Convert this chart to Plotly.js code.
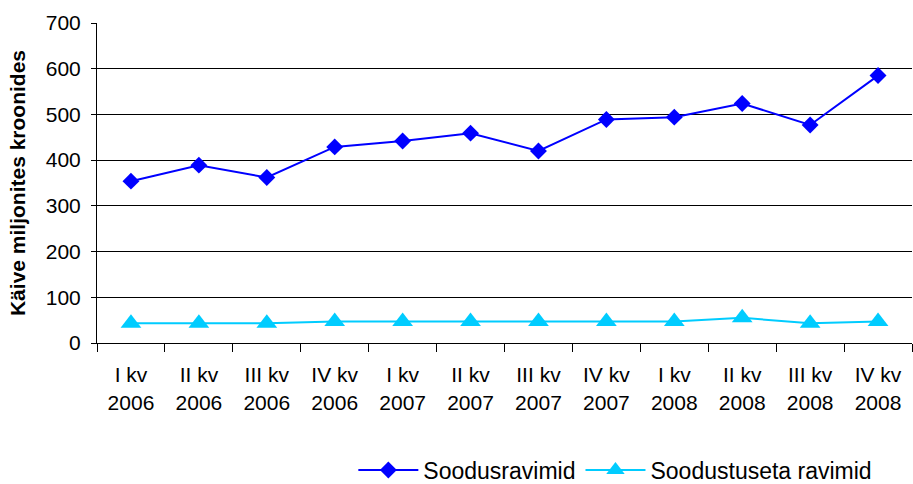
<!DOCTYPE html>
<html>
<head>
<meta charset="utf-8">
<script src="https://cdn.plot.ly/plotly-3.0.1.min.js"></script>
<style>html,body{margin:0;padding:0;background:#fff;overflow:hidden;}#chart{width:913px;height:484px;}</style>
</head>
<body>
<div id="chart"></div>
<script>
var categories = ["I kv<br>2006","II kv<br>2006","III kv<br>2006","IV kv<br>2006","I kv<br>2007","II kv<br>2007","III kv<br>2007","IV kv<br>2007","I kv<br>2008","II kv<br>2008","III kv<br>2008","IV kv<br>2008"];
var soodusravimid = [354, 389, 362, 429, 442, 459, 420, 489, 494, 524, 477, 585];
var soodustuseta = [43, 43, 43, 47, 47, 47, 47, 47, 47, 55, 43, 47];
var yTicks = [0, 100, 200, 300, 400, 500, 600, 700];

var traces = [
  {x: categories, y: soodusravimid, name: "Soodusravimid", type: "scatter", mode: "lines+markers",
   line: {color: "#0000FF", width: 2}, marker: {symbol: "diamond", size: 13, color: "#0000FF"}},
  {x: categories, y: soodustuseta, name: "Soodustuseta ravimid", type: "scatter", mode: "lines+markers",
   line: {color: "#00CCFF", width: 2}, marker: {symbol: "triangle-up", size: 18, color: "#00CCFF"}}
];

var layout = {
  width: 913, height: 484,
  margin: {l: 97, r: 1, t: 23, b: 141, autoexpand: false},
  paper_bgcolor: "#fff", plot_bgcolor: "#fff",
  font: {family: "Liberation Sans, Arial, sans-serif", size: 21, color: "#000"},
  showlegend: true,
  legend: {orientation: "h", x: 0.636, xanchor: "center", y: -0.397, yanchor: "middle",
           font: {size: 23}, itemwidth: 60, tracegroupgap: 0},
  xaxis: {type: "category", range: [-0.5, 11.5], showline: true, linecolor: "#000", linewidth: 1,
          ticks: "outside", tickson: "boundaries", ticklen: 8, tickcolor: "#000",
          showgrid: false, tickfont: {size: 21}, automargin: false, ticklabelstandoff: 13},
  yaxis: {range: [0, 700], tickvals: yTicks, showline: true, linecolor: "#000", linewidth: 1,
          ticks: "outside", ticklen: 5, tickcolor: "#000", showgrid: true, gridcolor: "#000",
          gridwidth: 1, zeroline: false, tickfont: {size: 21}, automargin: false, ticklabelstandoff: 6,
          title: {text: "<b>Käive miljonites kroonides</b>", font: {size: 21}, standoff: 14}}
};

Plotly.newPlot("chart", traces, layout, {displayModeBar: false, staticPlot: true});
</script>
</body>
</html>
